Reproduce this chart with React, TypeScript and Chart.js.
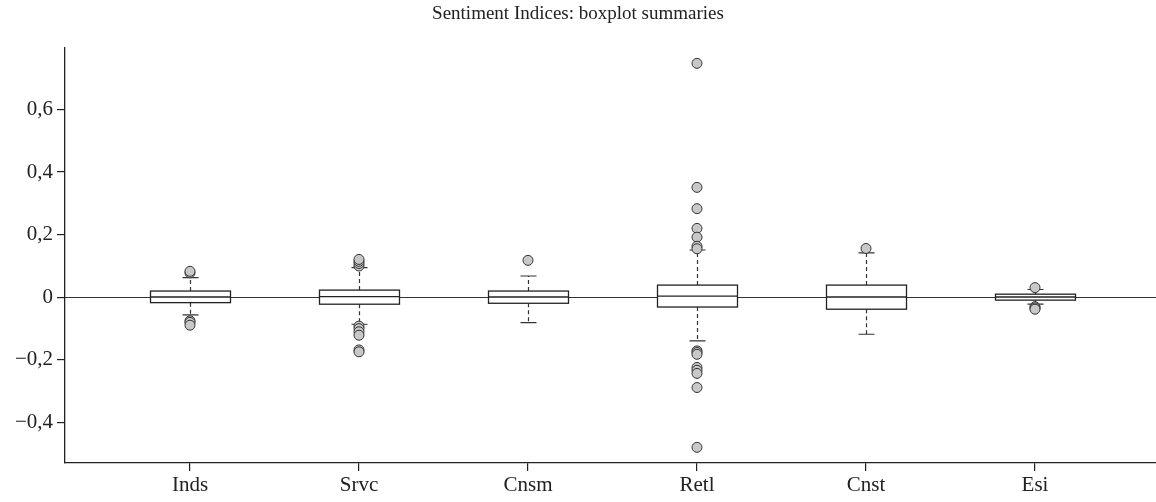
import React, { useEffect, useRef } from "react";
import { Chart, registerables } from "chart.js";

Chart.register(...registerables);

const categories = ["Inds", "Srvc", "Cnsm", "Retl", "Cnst", "Esi"];
const q1Values = [-0.017, -0.022, -0.019, -0.031, -0.038, -0.009];
const medianValues = [0.001, 0.002, 0.001, 0.004, 0.001, 0.001];
const q3Values = [0.02, 0.023, 0.02, 0.039, 0.039, 0.01];
const whiskerLowValues = [-0.056, -0.086, -0.081, -0.139, -0.118, -0.022];
const whiskerHighValues = [0.063, 0.095, 0.068, 0.151, 0.142, 0.025];

const outliersInds = [0.078, 0.083, -0.075, -0.08, -0.089];
const outliersSrvc = [0.1, 0.108, 0.115, 0.121, -0.092, -0.1, -0.11, -0.121, -0.168, -0.174];
const outliersCnsm = [0.118];
const outliersRetl = [0.747, 0.351, 0.283, 0.22, 0.192, 0.163, 0.155, -0.171, -0.176, -0.182, -0.224, -0.233, -0.243, -0.288, -0.479];
const outliersCnst = [0.156];
const outliersEsi = [0.031, -0.03, -0.034, -0.038];
const outlierLists = [outliersInds, outliersSrvc, outliersCnsm, outliersRetl, outliersCnst, outliersEsi];

const yTickValues = [-0.4, -0.2, 0, 0.2, 0.4, 0.6];

const FONT = "'Liberation Serif', 'DejaVu Serif', serif";
const INK = "#222222";

const boxPlugin = {
  id: "boxSummaries",
  beforeDatasetsDraw(chart: any) {
    const { ctx, chartArea, scales } = chart;
    const xs = scales.x;
    const ys = scales.y;
    const half = 40;
    const cap = 8;
    ctx.save();
    const y0 = Math.round(ys.getPixelForValue(0)) + 0.5;
    ctx.strokeStyle = "#333333";
    ctx.lineWidth = 1.2;
    ctx.beginPath();
    ctx.moveTo(chartArea.left, y0);
    ctx.lineTo(chartArea.right, y0);
    ctx.stroke();

    categories.forEach((_, i) => {
      const cx = Math.round(xs.getPixelForValue(i + 1)) + 0.5;
      const pQ1 = ys.getPixelForValue(q1Values[i]);
      const pQ3 = ys.getPixelForValue(q3Values[i]);
      const pMed = ys.getPixelForValue(medianValues[i]);
      const pLo = ys.getPixelForValue(whiskerLowValues[i]);
      const pHi = ys.getPixelForValue(whiskerHighValues[i]);

      ctx.strokeStyle = "#333333";
      ctx.lineWidth = 1.2;
      ctx.setLineDash([4, 3]);
      ctx.beginPath();
      ctx.moveTo(cx, pQ3);
      ctx.lineTo(cx, pHi);
      ctx.moveTo(cx, pQ1);
      ctx.lineTo(cx, pLo);
      ctx.stroke();
      ctx.setLineDash([]);

      ctx.beginPath();
      ctx.moveTo(cx - cap, pHi);
      ctx.lineTo(cx + cap, pHi);
      ctx.moveTo(cx - cap, pLo);
      ctx.lineTo(cx + cap, pLo);
      ctx.stroke();

      ctx.fillStyle = "#ffffff";
      ctx.fillRect(cx - half, pQ3, half * 2, pQ1 - pQ3);
      ctx.strokeStyle = INK;
      ctx.lineWidth = 1.3;
      ctx.strokeRect(cx - half, pQ3, half * 2, pQ1 - pQ3);
      ctx.beginPath();
      ctx.moveTo(cx - half, pMed);
      ctx.lineTo(cx + half, pMed);
      ctx.stroke();
    });
    ctx.restore();
  },
};

export default function App() {
  const canvasRef = useRef<HTMLCanvasElement | null>(null);

  useEffect(() => {
    document.body.style.margin = "0";
    const canvas = canvasRef.current;
    if (!canvas) return;

    const outlierPoints: { x: number; y: number }[] = [];
    outlierLists.forEach((list, i) => {
      list.forEach((v) => outlierPoints.push({ x: i + 1, y: v }));
    });

    const chart = new Chart(canvas, {
      type: "scatter",
      data: {
        datasets: [
          {
            label: "outliers",
            data: outlierPoints,
            pointRadius: 5,
            pointHoverRadius: 5,
            pointBackgroundColor: "#c8c8c8",
            pointBorderColor: "#333333",
            pointBorderWidth: 1,
            clip: false,
          },
        ],
      },
      options: {
        animation: false,
        responsive: false,
        maintainAspectRatio: false,
        layout: { autoPadding: false, padding: { left: 0, right: 0, top: 0, bottom: 0 } },
        plugins: {
          legend: { display: false },
          tooltip: { enabled: false },
          title: {
            display: true,
            text: "Sentiment Indices: boxplot summaries",
            color: INK,
            font: { family: FONT, size: 19, weight: "normal" },
            padding: { top: 3, bottom: 22.2 },
          },
        },
        scales: {
          x: {
            type: "linear",
            min: 0.2604,
            max: 6.716,
            afterBuildTicks: (scale: any) => {
              scale.ticks = categories.map((_, i) => ({ value: i + 1 }));
            },
            afterFit: (scale: any) => {
              scale.height = 39;
            },
            grid: { display: true, drawOnChartArea: false, drawTicks: true, tickLength: 8, color: INK, lineWidth: 1.2 },
            border: { display: true, color: INK, width: 1.3 },
            ticks: {
              autoSkip: false,
              maxRotation: 0,
              padding: 2,
              color: INK,
              font: { family: FONT, size: 21 },
              callback: (v: any) => categories[Math.round(Number(v)) - 1] ?? "",
            },
          },
          y: {
            type: "linear",
            min: -0.529,
            max: 0.796,
            afterBuildTicks: (scale: any) => {
              scale.ticks = yTickValues.map((v) => ({ value: v }));
            },
            afterFit: (scale: any) => {
              scale.width = 65;
            },
            grid: { display: true, drawOnChartArea: false, drawTicks: true, tickLength: 8, color: INK, lineWidth: 1.2 },
            border: { display: true, color: INK, width: 1.3 },
            ticks: {
              padding: 4,
              color: INK,
              font: { family: FONT, size: 21 },
              callback: (v: any) => {
                const n = Number(v);
                if (Math.abs(n) < 1e-9) return "0";
                const s = Math.abs(n).toFixed(1).replace(".", ",");
                return n < 0 ? "\u2212" + s : s;
              },
            },
          },
        },
      },
      plugins: [boxPlugin],
    });

    return () => chart.destroy();
  }, []);

  return (
    <div style={{ width: 1156, height: 502 }}>
      <canvas ref={canvasRef} width={1156} height={502} style={{ display: "block" }} />
    </div>
  );
}
